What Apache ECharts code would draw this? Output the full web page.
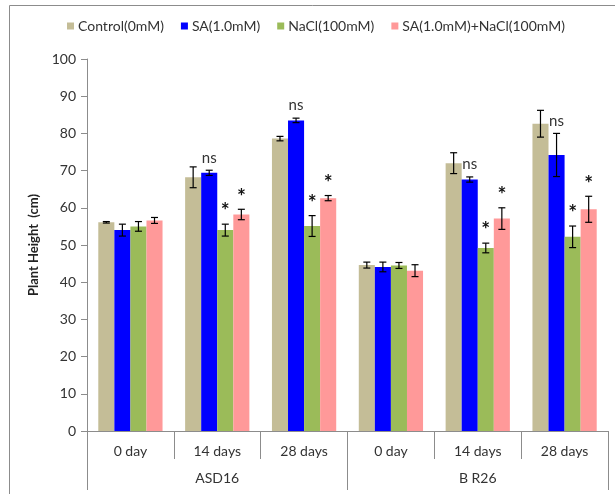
<!DOCTYPE html>
<html>
<head>
<meta charset="utf-8">
<script src="https://cdn.jsdelivr.net/npm/echarts@6/dist/echarts.min.js"></script>
<style>
  html, body { margin: 0; padding: 0; background: #fff; }
  #chart { width: 615px; height: 494px; }
</style>
</head>
<body>
<div id="chart"></div>
<script>
// Plant height under salt / salicylic-acid treatments, two cultivars
const categories = ['0 day', '14 days', '28 days', '0 day', '14 days', '28 days'];
const groups = ['ASD16', 'B R26'];
const seriesNames = ['Control(0mM)', 'SA(1.0mM)', 'NaCl(100mM)', 'SA(1.0mM)+NaCl(100mM)'];

const control    = [56.1, 68.2, 78.6, 44.6, 72.0, 82.6];
const controlErr = [0.2, 2.8, 0.6, 0.8, 2.8, 3.6];
const sa         = [54.0, 69.4, 83.5, 44.1, 67.6, 74.2];
const saErr      = [1.6, 0.7, 0.6, 1.3, 0.7, 5.8];
const nacl       = [55.0, 54.0, 55.1, 44.5, 49.2, 52.2];
const naclErr    = [1.3, 1.6, 2.8, 0.8, 1.3, 2.9];
const saNacl     = [56.6, 58.2, 62.6, 43.1, 57.1, 59.6];
const saNaclErr  = [0.8, 1.4, 0.7, 1.6, 2.9, 3.5];

// significance marks drawn above each bar's error bar
const controlSig = ['', '', '', '', '', ''];
const saSig      = ['', 'ns', 'ns', '', 'ns', 'ns'];
const naclSig    = ['', '*', '*', '', '*', '*'];
const saNaclSig  = ['', '*', '*', '', '*', '*'];

const yTicks = { min: 0, max: 100, interval: 10 };

const colors = ['#C4BD97', '#0000FF', '#9BBB59', '#FF9999'];
const values = [control, sa, nacl, saNacl];
const errors = [controlErr, saErr, naclErr, saNaclErr];
const sigs = [controlSig, saSig, naclSig, saNaclSig];

const FONT = 'Lato, "Open Sans", sans-serif';
const CAT_GAP = 0.26;

const chart = echarts.init(document.getElementById('chart'), null, { renderer: 'canvas' });

function errorSeries(idx) {
  return {
    type: 'custom',
    name: seriesNames[idx],
    xAxisIndex: 0,
    yAxisIndex: 0,
    z: 5,
    silent: true,
    data: values[idx].map((v, i) => [i, v, errors[idx][i]]),
    renderItem: function (params, api) {
      const cat = api.value(0), v = api.value(1), e = api.value(2);
      const sig = sigs[idx][cat];
      const band = api.size([1, 0])[0];
      const barW = band * (1 - CAT_GAP) / 4;
      const cx = api.coord([cat, v])[0] + (idx - 1.5) * barW;
      const yTop = api.coord([cat, v + e])[1];
      const yBot = api.coord([cat, v - e])[1];
      const cap = 3.5;
      const lineStyle = { stroke: '#000', lineWidth: 1.2 };
      const children = [
        { type: 'line', shape: { x1: cx, y1: yTop, x2: cx, y2: yBot }, style: lineStyle },
        { type: 'line', shape: { x1: cx - cap, y1: yTop, x2: cx + cap, y2: yTop }, style: lineStyle },
        { type: 'line', shape: { x1: cx - cap, y1: yBot, x2: cx + cap, y2: yBot }, style: lineStyle }
      ];
      if (sig) {
        const star = sig === '*';
        children.push({
          type: 'text',
          style: {
            text: sig,
            x: cx,
            y: star ? yTop - 2 : yTop - 5,
            align: 'center',
            verticalAlign: 'bottom',
            fill: star ? '#111' : '#333',
            font: star ? 'bold 21px ' + FONT : '15px ' + FONT
          }
        });
      }
      return { type: 'group', children: children };
    }
  };
}

const barSeries = seriesNames.map((name, idx) => ({
  type: 'bar',
  name: name,
  xAxisIndex: 0,
  yAxisIndex: 0,
  data: values[idx],
  barGap: '0%',
  barCategoryGap: (CAT_GAP * 100) + '%',
  itemStyle: { color: colors[idx] }
}));

const option = {
  animation: false,
  backgroundColor: '#fff',
  textStyle: { fontFamily: FONT },
  color: colors,
  graphic: [{
    type: 'rect',
    shape: { x: 9.5, y: 5.5, width: 700, height: 600 },
    style: { fill: 'none', stroke: '#8c8c8c', lineWidth: 1 },
    silent: true
  }],
  legend: {
    data: seriesNames,
    left: 62,
    top: 14,
    icon: 'rect',
    itemWidth: 7,
    itemHeight: 7,
    itemGap: 17,
    textStyle: { fontFamily: FONT, fontSize: 14, color: '#333', padding: [0, 0, 0, -1] }
  },
  grid: { left: 87, right: 7, top: 59, bottom: 63, containLabel: false },
  xAxis: [
    {
      type: 'category',
      data: categories,
      position: 'bottom',
      axisLine: { show: true, lineStyle: { color: '#8c8c8c', width: 1 } },
      axisTick: { show: true, length: 28, interval: 0, lineStyle: { color: '#8c8c8c' } },
      axisLabel: { interval: 0, margin: 13, fontFamily: FONT, fontSize: 14, color: '#333' },
      splitLine: { show: false }
    },
    {
      type: 'category',
      data: groups,
      position: 'bottom',
      offset: 0,
      axisLine: { show: false },
      axisTick: { show: true, length: 59, interval: 0, lineStyle: { color: '#8c8c8c' } },
      axisLabel: { interval: 0, margin: 40, fontFamily: FONT, fontSize: 14, color: '#333' },
      splitLine: { show: false }
    }
  ],
  yAxis: {
    type: 'value',
    min: yTicks.min,
    max: yTicks.max,
    interval: yTicks.interval,
    name: 'Plant Height  (cm)',
    nameLocation: 'middle',
    nameGap: 44,
    nameRotate: 90,
    nameTextStyle: { fontFamily: FONT, fontSize: 13, fontWeight: 'bold', color: '#222' },
    axisLine: { show: true, lineStyle: { color: '#8c8c8c', width: 1 } },
    axisTick: { show: true, length: 6, lineStyle: { color: '#8c8c8c' } },
    axisLabel: { margin: 11, fontFamily: FONT, fontSize: 14, color: '#333' },
    splitLine: { show: false }
  },
  series: barSeries.concat(seriesNames.map((_, i) => errorSeries(i)))
};

chart.setOption(option);
</script>
</body>
</html>
